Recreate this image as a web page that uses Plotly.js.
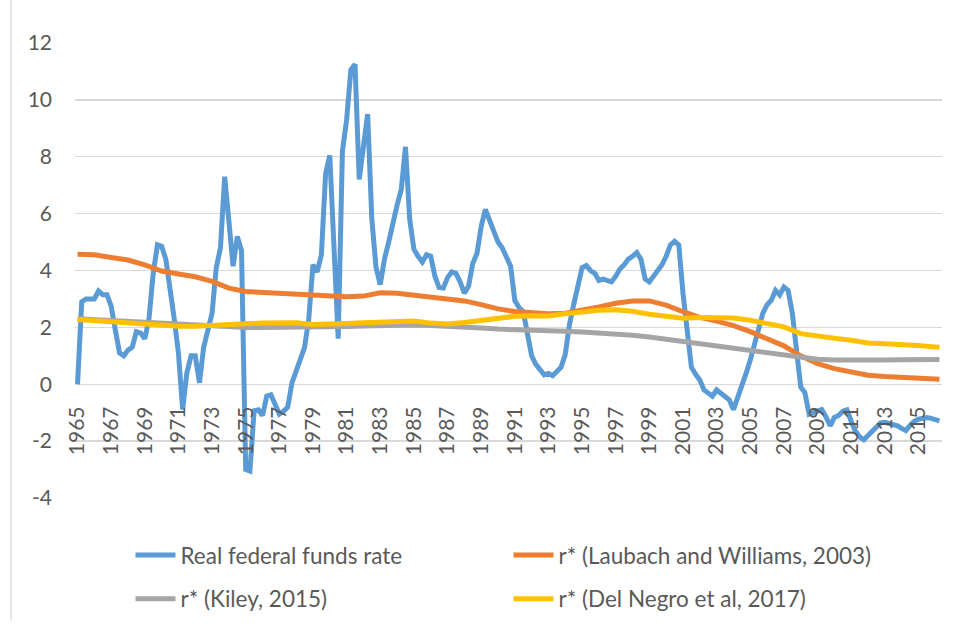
<!DOCTYPE html>
<html>
<head>
<meta charset="utf-8">
<script src="https://cdn.plot.ly/plotly-3.0.1.min.js"></script>
<style>html,body{margin:0;padding:0;background:#fff;}#chart{width:956px;height:633px;}</style>
</head>
<body>
<div id="chart"></div>
<script>
// Quarterly categories 1965 Q1 .. 2016 Q2
const firstYear = 1965, lastYear = 2016, lastQuarter = 2;
const quarters = [];
for (let y = firstYear; y <= lastYear; y++) {
  for (let q = 1; q <= 4; q++) {
    if (y === lastYear && q > lastQuarter) break;
    quarters.push(y + ' Q' + q);
  }
}

// Tick labels
const tickYears = ['1965','1967','1969','1971','1973','1975','1977','1979','1981','1983','1985','1987','1989',
  '1991','1993','1995','1997','1999','2001','2003','2005','2007','2009','2011','2013','2015'];
const yTickValues = [-4, -2, 0, 2, 4, 6, 8, 10, 12];
const yTickLabels = ['-4', '-2', '0', '2', '4', '6', '8', '10', '12'];

// Real federal funds rate (quarterly)
const realFedFunds = [
  0.0, 2.9, 3.0, 3.0, 3.0, 3.28, 3.15, 3.15, 2.75, 1.9,
  1.1, 1.0, 1.2, 1.3, 1.85, 1.8, 1.6, 2.3, 3.9, 4.9,
  4.85, 4.4, 3.4, 2.3, 1.1, -0.89, 0.4, 1.0, 1.0, 0.05,
  1.3, 2.0, 2.5, 4.1, 4.8, 7.3, 5.6, 4.15, 5.2, 4.7,
  -3.0, -3.05, -0.93, -0.9, -1.1, -0.42, -0.37, -0.7, -1.05, -0.95,
  -0.8, 0.05, 0.5, 0.85, 1.3, 2.3, 4.2, 3.95, 4.55, 7.4,
  8.05, 4.8, 1.6, 8.2, 9.3, 11.05, 11.25, 7.2, 8.4, 9.5,
  5.8, 4.1, 3.5, 4.4, 5.0, 5.7, 6.3, 6.85, 8.35, 5.8,
  4.75, 4.5, 4.3, 4.55, 4.5, 3.8, 3.4, 3.38, 3.75, 3.95,
  3.9, 3.6, 3.2, 3.45, 4.25, 4.6, 5.55, 6.15, 5.8, 5.35,
  5.0, 4.8, 4.5, 4.15, 2.95, 2.7, 2.56, 1.8, 1.0, 0.7,
  0.5, 0.33, 0.38, 0.3, 0.45, 0.6, 1.05, 2.1, 2.8, 3.5,
  4.1, 4.17, 4.0, 3.9, 3.65, 3.7, 3.65, 3.6, 3.8, 4.05,
  4.2, 4.4, 4.5, 4.63, 4.4, 3.7, 3.6, 3.8, 4.0, 4.2,
  4.5, 4.9, 5.03, 4.9, 3.2, 2.0, 0.6, 0.35, 0.15, -0.2,
  -0.3, -0.42, -0.2, -0.3, -0.45, -0.55, -0.89, -0.5, -0.1, 0.38,
  0.85, 1.4, 1.9, 2.5, 2.8, 2.95, 3.3, 3.14, 3.42, 3.3,
  2.5, 1.2, -0.1, -0.3, -1.05, -1.0, -0.95, -0.89, -1.15, -1.46,
  -1.17, -1.1, -0.95, -0.9, -1.3, -1.65, -1.85, -1.95, -1.8, -1.65,
  -1.46, -1.36, -1.34, -1.38, -1.4, -1.46, -1.55, -1.63, -1.45, -1.3,
  -1.23, -1.2, -1.17, -1.2, -1.23, -1.29
];

// r* estimates, read once a year (Q1) plus the last quarter
const rstarDates = ['1965 Q1','1966 Q1','1967 Q1','1968 Q1','1969 Q1','1970 Q1','1971 Q1','1972 Q1','1973 Q1','1974 Q1',
  '1975 Q1','1976 Q1','1977 Q1','1978 Q1','1979 Q1','1980 Q1','1981 Q1','1982 Q1','1983 Q1','1984 Q1',
  '1985 Q1','1986 Q1','1987 Q1','1988 Q1','1989 Q1','1990 Q1','1991 Q1','1992 Q1','1993 Q1','1994 Q1',
  '1995 Q1','1996 Q1','1997 Q1','1998 Q1','1999 Q1','2000 Q1','2001 Q1','2002 Q1','2003 Q1','2004 Q1',
  '2005 Q1','2006 Q1','2007 Q1','2008 Q1','2009 Q1','2010 Q1','2011 Q1','2012 Q1','2013 Q1','2014 Q1',
  '2015 Q1','2016 Q1','2016 Q2'];

const laubachWilliams = [4.57, 4.55, 4.46, 4.37, 4.2, 3.98, 3.88, 3.78, 3.62, 3.38,
  3.26, 3.23, 3.21, 3.2, 3.15, 3.1, 3.08, 3.1, 3.22, 3.2,
  3.13, 3.07, 3.03, 2.93, 2.8, 2.65, 2.56, 2.52, 2.48, 2.5,
  2.6, 2.72, 2.85, 2.93, 2.93, 2.78, 2.55, 2.35, 2.22, 2.06,
  1.85, 1.6, 1.35, 1.0, 0.72, 0.55, 0.42, 0.32, 0.27, 0.23,
  0.2, 0.19, 0.18];

const kiley = [2.3, 2.27, 2.23, 2.2, 2.16, 2.13, 2.1, 2.07, 2.03, 2.01,
  2.0, 2.0, 2.0, 2.0, 2.01, 2.02, 2.03, 2.05, 2.07, 2.08,
  2.08, 2.07, 2.05, 2.02, 1.98, 1.94, 1.91, 1.89, 1.88, 1.86,
  1.84, 1.81, 1.77, 1.72, 1.66, 1.58, 1.49, 1.41, 1.33, 1.26,
  1.19, 1.11, 1.03, 0.95, 0.88, 0.85, 0.84, 0.84, 0.85, 0.86,
  0.86, 0.87, 0.87];

const delNegro = [2.28, 2.24, 2.19, 2.15, 2.1, 2.07, 2.04, 2.04, 2.08, 2.11,
  2.13, 2.15, 2.16, 2.16, 2.1, 2.1, 2.14, 2.16, 2.18, 2.2,
  2.22, 2.15, 2.12, 2.17, 2.25, 2.33, 2.39, 2.41, 2.4, 2.48,
  2.56, 2.6, 2.62, 2.57, 2.46, 2.38, 2.32, 2.35, 2.36, 2.33,
  2.25, 2.15, 2.02, 1.78, 1.68, 1.62, 1.55, 1.45, 1.42, 1.4,
  1.36, 1.31, 1.3];

const seriesNames = ['Real federal funds rate', 'r* (Laubach and Williams, 2003)', 'r* (Kiley, 2015)', 'r* (Del Negro et al, 2017)'];
const seriesColors = ['#5B9BD5', '#ED7D31', '#A5A5A5', '#FFC000'];
const legendIds = ['legend', 'legend2', 'legend3', 'legend4'];

const lw = 5;
const traces = [
  {x: quarters, y: realFedFunds},
  {x: rstarDates, y: laubachWilliams},
  {x: rstarDates, y: kiley},
  {x: rstarDates, y: delNegro}
].map((t, i) => Object.assign(t, {
  type: 'scatter', mode: 'lines', name: seriesNames[i], legend: legendIds[i],
  line: {color: seriesColors[i], width: lw, shape: 'linear'},
  hoverinfo: 'skip'
}));

const textColor = '#595959';
const fontFamily = 'Lato, "Liberation Sans", sans-serif';
const tickSize = 21;
const legendSize = 22.5;
function legendAt(x, y) {
  return {
    orientation: 'h', xanchor: 'left', yanchor: 'middle', x: x, y: y,
    itemwidth: 40,
    font: {family: fontFamily, size: legendSize, color: textColor},
    bgcolor: 'rgba(0,0,0,0)', borderwidth: 0
  };
}

const layout = {
  width: 956, height: 633,
  margin: {l: 75, r: 14, t: 43, b: 126, pad: 0},
  paper_bgcolor: '#ffffff', plot_bgcolor: '#ffffff',
  font: {family: fontFamily, size: tickSize, color: textColor},
  showlegend: true,
  xaxis: {
    type: 'category', categoryorder: 'array', categoryarray: quarters,
    range: [-0.6, quarters.length - 1 + 0.6],
    anchor: 'free', position: 0.25,
    showgrid: false, zeroline: false, showline: false, ticks: '',
    tickvals: tickYears.map(y => y + ' Q1'), ticktext: tickYears,
    tickangle: -90, ticklabelstandoff: 17,
    tickfont: {family: fontFamily, size: tickSize, color: textColor},
    automargin: false, fixedrange: true
  },
  yaxis: {
    range: [-4, 12], tickmode: 'array', tickvals: yTickValues, ticktext: yTickLabels,
    showgrid: true, gridcolor: '#D9D9D9', gridwidth: 1.3,
    zeroline: false, showline: false, ticks: '',
    ticklabelstandoff: 22,
    tickfont: {family: fontFamily, size: tickSize, color: textColor},
    automargin: false, fixedrange: true
  },
  shapes: [{
    type: 'line', xref: 'paper', yref: 'paper',
    x0: -0.0738, x1: -0.0738, y0: -0.27, y1: 1.1,
    line: {color: '#D9D9D9', width: 1.3}
  }],
  legend: legendAt(0.064, -0.126),
  legend2: legendAt(0.5, -0.126),
  legend3: legendAt(0.064, -0.222),
  legend4: legendAt(0.5, -0.222)
};

Plotly.newPlot('chart', traces, layout, {displayModeBar: false, staticPlot: true});
</script>
</body>
</html>
